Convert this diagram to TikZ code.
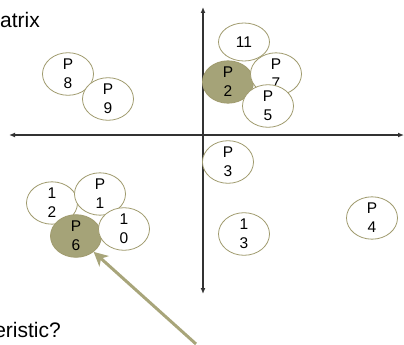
\documentclass[tikz,border=0pt]{standalone}
\usepackage{fontspec}
\setmainfont{Liberation Sans}
\usetikzlibrary{arrows.meta,shapes.geometric}
\definecolor{edgec}{RGB}{160,155,110}
\definecolor{selc}{RGB}{165,163,120}
\definecolor{arrc}{RGB}{168,165,122}
\definecolor{axisc}{RGB}{50,50,50}
\tikzset{
  pnode/.style={ellipse, draw=edgec, line width=0.8pt, fill=white,
    minimum width=51pt, minimum height=38pt, inner sep=0pt, align=center,
    font=\fontsize{15.5}{19.3}\selectfont},
  selnode/.style={pnode, fill=selc},
  axisline/.style={draw=axisc, line width=1.3pt, {Latex[length=6pt,width=5pt]}-{Latex[length=6pt,width=5pt]}},
  bigtext/.style={inner sep=0pt, font=\fontsize{21}{25}\selectfont}
}
\begin{document}
\begin{tikzpicture}[x=1pt,y=-1pt]
\useasboundingbox (0,0) rectangle (404,345);
\clip (0,0) rectangle (404,345);
\coordinate (ytop) at (203,7);
\coordinate (ybot) at (203,294);
\coordinate (xl) at (9,135);
\coordinate (xr) at (404,135);
\draw[axisline] (ybot) -- (ytop);
\draw[axisline] (xl) -- (xr);
\node[bigtext, anchor=base east] (t1) at (40,28) {atrix};
\node[bigtext, anchor=base east] (t2) at (61,337) {eristic?};
% upper left
\node[pnode] (p8) at (68,74) {P\\8};
\node[pnode] (p9) at (108,99) {P\\9};
% upper right
\node[pnode] (n11) at (244,42) {11};
\node[selnode] (p2) at (228,82) {P\\2};
\node[pnode] (p7) at (276,74) {P\\7};
\node[pnode] (p5) at (268,106) {P\\5};
\node[pnode] (p3) at (228,162) {P\\3};
% lower left
\node[pnode] (n12) at (52,203) {1\\2};
\node[pnode] (p1) at (100,194) {P\\1};
\node[selnode] (p6) at (76,236) {P\\6};
\node[pnode] (n10) at (124,229) {1\\0};
% lower right
\node[pnode] (n13) at (244,234) {1\\3};
\node[pnode] (p4) at (372,218) {P\\4};
% arrow
\coordinate (astart) at (196,344);
\draw[arrc, line width=3pt, -{Stealth[length=14pt,width=14pt,inset=4pt]}] (astart) -- (p6);
\end{tikzpicture}
\end{document}
